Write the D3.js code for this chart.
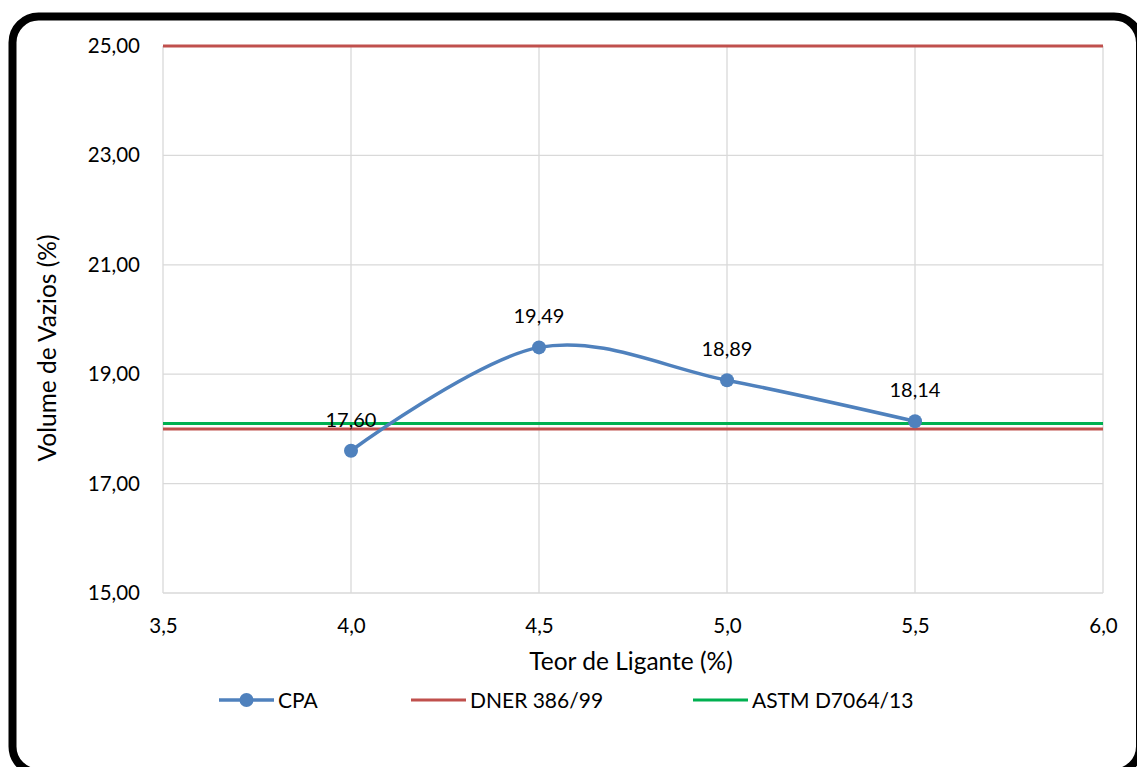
<!DOCTYPE html>
<html>
<head>
<meta charset="utf-8">
<script src="https://cdn.jsdelivr.net/npm/d3@7"></script>
<style>
  html, body { margin: 0; padding: 0; background: #fff; }
  svg { display: block; font-family: Lato, "Open Sans", sans-serif; }
</style>
</head>
<body>
<svg id="chart" width="1137" height="767"></svg>
<script>
// Binder content (%) and air voids (%) for the CPA mix
const teor = [4.0, 4.5, 5.0, 5.5];
const cpa = [17.60, 19.49, 18.89, 18.14];
// Specification limits
const dnerLimits = [18.0, 25.0];
const astmLimit = 18.1;
const xTicks = [3.5, 4.0, 4.5, 5.0, 5.5, 6.0];
const yTicks = [15, 17, 19, 21, 23, 25];
const seriesNames = ["CPA", "DNER 386/99", "ASTM D7064/13"];
const colors = { cpa: "#4f81bd", dner: "#c0504d", astm: "#00b050" };

const svg = d3.select("#chart");
const fmt2 = v => d3.format(".2f")(v).replace(".", ",");
const fmt1 = v => d3.format(".1f")(v).replace(".", ",");

const x = d3.scaleLinear().domain([3.5, 6.0]).range([163, 1103]);
const y = d3.scaleLinear().domain([15, 25]).range([593, 46]);

// Outer rounded frame
svg.append("rect")
  .attr("x", 12.5).attr("y", 16.5)
  .attr("width", 1127.5).attr("height", 756)
  .attr("rx", 26).attr("ry", 26)
  .attr("fill", "none").attr("stroke", "#000").attr("stroke-width", 8);

// Gridlines
const grid = svg.append("g").attr("stroke", "#d9d9d9").attr("stroke-width", 1.3);
xTicks.forEach(t => grid.append("line")
  .attr("x1", x(t)).attr("x2", x(t)).attr("y1", y(25)).attr("y2", y(15)));
yTicks.forEach(t => grid.append("line")
  .attr("x1", x(3.5)).attr("x2", x(6.0)).attr("y1", y(t)).attr("y2", y(t)));

// Axes (labels only)
const xAxis = svg.append("g").attr("transform", `translate(0,${y(15)})`)
  .call(d3.axisBottom(x).tickValues(xTicks).tickFormat(fmt1).tickSize(0));
xAxis.selectAll("text").attr("y", 40).attr("dy", 0);
const yAxis = svg.append("g").attr("transform", `translate(${x(3.5)},0)`)
  .call(d3.axisLeft(y).tickValues(yTicks).tickFormat(fmt2).tickSize(0).tickPadding(23));
[xAxis, yAxis].forEach(a => {
  a.select(".domain").remove();
  a.selectAll("text").attr("font-size", 20.5).attr("fill", "#000")
    .attr("font-family", "Lato, 'Open Sans', sans-serif");
});

// Limit lines
svg.selectAll("line.dner").data(dnerLimits).enter().append("line")
  .attr("class", "dner")
  .attr("x1", x(3.5)).attr("x2", x(6.0))
  .attr("y1", d => y(d)).attr("y2", d => y(d))
  .attr("stroke", colors.dner).attr("stroke-width", 3);
svg.append("line")
  .attr("x1", x(3.5)).attr("x2", x(6.0))
  .attr("y1", y(astmLimit)).attr("y2", y(astmLimit))
  .attr("stroke", colors.astm).attr("stroke-width", 3);

// CPA smoothed curve
const pts = teor.map((t, i) => [t, cpa[i]]);
const line = d3.line().x(d => x(d[0])).y(d => y(d[1])).curve(d3.curveCardinal.tension(0));
svg.append("path").datum(pts)
  .attr("d", line).attr("fill", "none")
  .attr("stroke", colors.cpa).attr("stroke-width", 3.5);
svg.selectAll("circle.pt").data(pts).enter().append("circle")
  .attr("class", "pt")
  .attr("cx", d => x(d[0])).attr("cy", d => y(d[1])).attr("r", 7)
  .attr("fill", colors.cpa);

// Data labels
svg.selectAll("text.lbl").data(pts).enter().append("text")
  .attr("class", "lbl")
  .attr("x", d => x(d[0])).attr("y", d => y(d[1]) - 24)
  .attr("text-anchor", "middle").attr("font-size", 20).attr("fill", "#000")
  .text(d => fmt2(d[1]));

// Axis titles
svg.append("text")
  .attr("x", 631).attr("y", 670).attr("text-anchor", "middle")
  .attr("font-size", 24.5).attr("fill", "#000").text("Teor de Ligante (%)");
svg.append("text")
  .attr("transform", "translate(56,348) rotate(-90)").attr("text-anchor", "middle")
  .attr("font-size", 24.5).attr("fill", "#000").text("Volume de Vazios (%)");

// Legend
const legendX = [219, 411, 693];
const legendColors = [colors.cpa, colors.dner, colors.astm];
const lg = svg.append("g").attr("transform", "translate(0,700)");
seriesNames.forEach((name, i) => {
  const g = lg.append("g").attr("transform", `translate(${legendX[i]},0)`);
  g.append("line").attr("x1", 0).attr("x2", 55).attr("y1", 0).attr("y2", 0)
    .attr("stroke", legendColors[i]).attr("stroke-width", i === 0 ? 3.5 : 3);
  if (i === 0) g.append("circle").attr("cx", 27.5).attr("cy", 0).attr("r", 7).attr("fill", legendColors[i]);
  g.append("text").attr("x", 59).attr("y", 7.5).attr("font-size", 21).attr("fill", "#000").text(name);
});
</script>
</body>
</html>
